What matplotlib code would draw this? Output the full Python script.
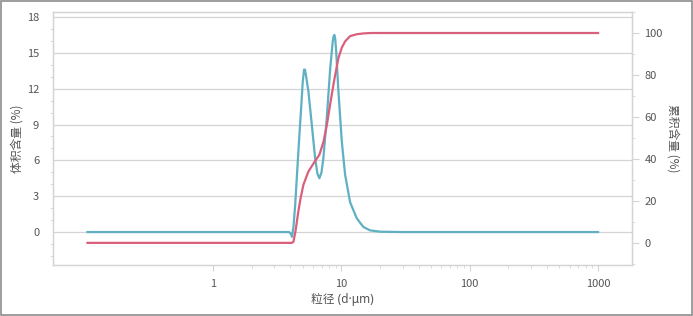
import matplotlib
matplotlib.use('Agg')
import matplotlib.pyplot as plt
from matplotlib.patches import Rectangle
from matplotlib.ticker import FixedLocator, NullFormatter

plt.rcParams['font.family'] = ['Noto Sans CJK SC', 'DejaVu Sans']

# 粒径分布 (体积含量 %)
size_vol = [0.105, 1, 3.5, 3.9, 4.05, 4.12, 4.23, 4.36, 4.62, 4.91, 5.0, 5.12, 5.2,
            5.3, 5.53, 5.88, 6.24, 6.5, 6.74, 7.0, 7.24, 7.7, 8.17, 8.55, 8.7,
            8.82, 8.95, 9.1, 9.48, 10.07, 10.69, 11.69, 13.18, 14.85, 16.74,
            20, 28.7, 1000]
vol = [0, 0, 0, 0, -0.15, -0.4, 0.4, 2.2, 6.7, 11.2, 12.6, 13.6, 13.6,
       13.1, 11.8, 9.0, 6.2, 4.9, 4.5, 5.0, 6.2, 9.6, 13.6, 15.9, 16.4,
       16.5, 16.2, 15.2, 11.8, 7.6, 4.8, 2.5, 1.15, 0.42, 0.14,
       0.03, 0, 0]

# 累积含量 (%)
size_cum = [0.105, 1, 4.1, 4.23, 4.4, 4.62, 4.8, 5.06, 5.53, 6.24, 6.74, 7.24,
            7.7, 8.17, 8.82, 9.48, 10.07, 10.69, 11.69, 13.18, 14.85, 17, 1000]
cum = [0, 0, 0, 0.5, 6, 15, 21, 27.7, 34, 39, 42, 48,
       56, 66, 78, 88, 93, 96, 98.5, 99.4, 99.8, 100, 100]

blue = '#5fb0c2'
red = '#d9607c'
grid_c = '#d4d4d4'
txt_c = '#555555'

fig = plt.figure(figsize=(6.93, 3.16), dpi=100)
ax = fig.add_axes([0.0765, 0.161, 0.8355, 0.801])
ax2 = ax.twinx()

ax.plot(size_vol, vol, color=blue, lw=1.6, zorder=3, solid_joinstyle='round')
ax2.plot(size_cum, cum, color=red, lw=1.6, zorder=3, solid_joinstyle='round')

ax.set_xscale('log')
ax.set_xlim(0.0566, 1840)
ax.set_ylim(-2.77, 18.42)
ax2.set_ylim(-10.6, 110)

# x 轴刻度
ax.xaxis.set_major_locator(FixedLocator([1, 10, 100, 1000]))
ax.set_xticklabels(['1', '10', '100', '1000'])
minors = [m * d for d in [1, 10, 100] for m in range(2, 10)]
ax.xaxis.set_minor_locator(FixedLocator(minors))
ax.xaxis.set_minor_formatter(NullFormatter())
ax.tick_params(axis='x', which='major', length=4, color=grid_c, labelsize=8, labelcolor=txt_c, pad=6)
ax.tick_params(axis='x', which='minor', length=2, color=grid_c)

# 左 y 轴
ax.set_yticks(range(0, 19, 3))
ax.yaxis.set_minor_locator(FixedLocator(range(-2, 19)))
ax.tick_params(axis='y', which='major', length=0, labelsize=8, labelcolor=txt_c, pad=10)
ax.tick_params(axis='y', which='minor', length=2, color=grid_c)
ax.grid(axis='y', which='major', color=grid_c, lw=0.9)
ax.set_axisbelow(True)

# 右 y 轴
ax2.set_yticks(range(0, 101, 20))
ax2.yaxis.set_minor_locator(FixedLocator(range(-10, 111, 10)))
ax2.tick_params(axis='y', which='major', length=5, color=grid_c, labelsize=8, labelcolor=txt_c, pad=4)
ax2.tick_params(axis='y', which='minor', length=2, color=grid_c)

for a in (ax, ax2):
    for s in a.spines.values():
        s.set_color(grid_c)
        s.set_linewidth(0.9)

ax.set_xlabel('粒径 (d·μm)', fontsize=8.5, color=txt_c, labelpad=3,
              family=['Noto Sans', 'Noto Sans CJK SC'])
ax.set_ylabel('体积含量 (%)', fontsize=8.5, color=txt_c, labelpad=2)
ax2.set_ylabel('累积含量 (%)', fontsize=8.5, color=txt_c, rotation=270, labelpad=12)

# 外框
fig.patches.append(Rectangle((0.001, 0.003), 0.997, 0.994, transform=fig.transFigure,
                             fill=False, edgecolor='#8c8c8c', lw=1.2))

fig.savefig('out.png', dpi=100)
